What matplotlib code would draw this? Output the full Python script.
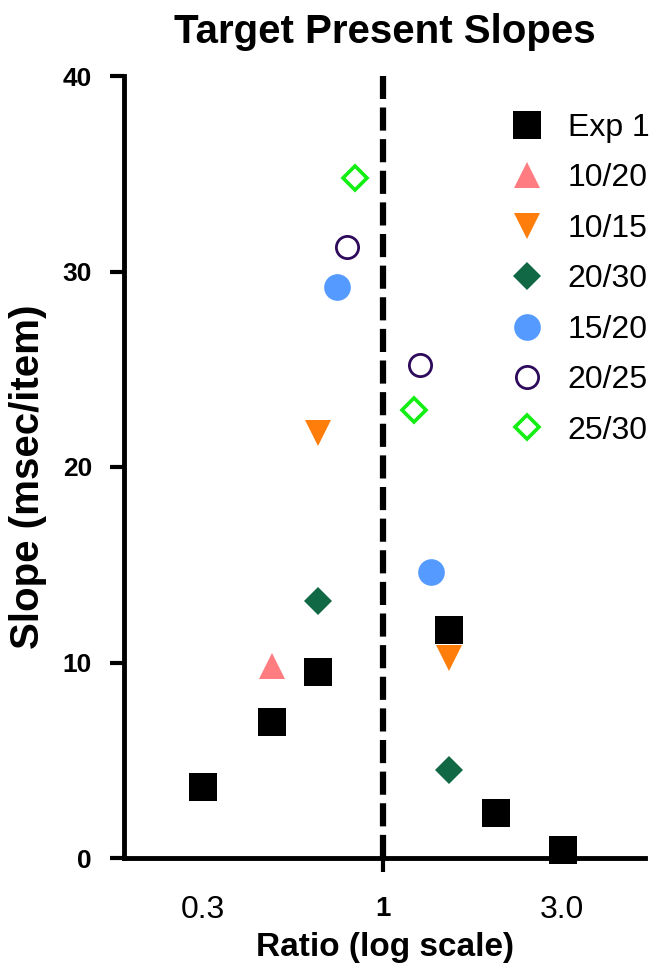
import numpy as np
import matplotlib
matplotlib.use('Agg')
import matplotlib.pyplot as plt

plt.rcParams['font.family'] = ['Liberation Sans', 'DejaVu Sans']

# ratio (x, log scale) and slope (msec/item) for each group
exp1_x = [0.30, 0.476, 0.649, 1.563, 2.13, 3.34]
exp1_y = [3.63, 6.94, 9.50, 11.66, 2.29, 0.41]
g1020_x = [0.476]
g1020_y = [9.82]
g1015_x = [0.649, 1.563]
g1015_y = [21.72, 10.21]
g2030_x = [0.649, 1.563]
g2030_y = [13.15, 4.50]
g1520_x = [0.737, 1.385]
g1520_y = [29.19, 14.65]
g2025_x = [0.788, 1.286]
g2025_y = [31.27, 25.22]
g2530_x = [0.832, 1.235]
g2530_y = [34.77, 22.92]

xtick_vals = [0.3, 1, 1 / 0.3]
xtick_labels = ['0.3', '1', '3.0']
ytick_vals = [0, 10, 20, 30, 40]

fig = plt.figure(figsize=(6.54, 9.66), dpi=100)
ax = fig.add_axes([124 / 654, 1 - 858 / 966, (645 - 124) / 654, (858 - 76) / 966])

ax.set_xscale('log')
ax.set_xlim(0.1765, 5.8)
ax.set_ylim(0, 40)

# reference line at ratio 1
ax.axvline(1, color='black', lw=4.5, ls=(0, (3.7, 1.36)), zorder=1)

kw = dict(ls='none', clip_on=False, zorder=3)
ax.plot(exp1_x, exp1_y, marker='s', ms=19.6, mfc='black', mec='black', mew=0, label='Exp 1', **kw)
ax.plot(g1020_x, g1020_y, marker='^', ms=19, mfc='#FF7C80', mec='#FF7C80', mew=0, label='10/20', **kw)
ax.plot(g1015_x, g1015_y, marker='v', ms=19, mfc='#FF7D0A', mec='#FF7D0A', mew=0, label='10/15', **kw)
ax.plot(g2030_x, g2030_y, marker='D', ms=14.3, mfc='#116844', mec='#116844', mew=0, label='20/30', **kw)
ax.plot(g1520_x, g1520_y, marker='o', ms=19.2, mfc='#559BFF', mec='#559BFF', mew=0, label='15/20', **kw)
ax.plot(g2025_x, g2025_y, marker='o', ms=16, mfc='white', mec='#2E0A5C', mew=2, label='20/25', **kw)
ax.plot(g2530_x, g2530_y, marker='D', ms=12, mfc='white', mec='#11EE11', mew=2.6, label='25/30', **kw)

for s in ['top', 'right']:
    ax.spines[s].set_visible(False)
for s in ['left', 'bottom']:
    ax.spines[s].set_linewidth(3.5)

ax.set_yticks(ytick_vals)
ax.set_yticklabels([str(v) for v in ytick_vals], fontsize=19, fontweight='bold')
ax.tick_params(axis='y', direction='out', length=10, width=3, pad=13)

ax.set_xticks(xtick_vals)
ax.set_xticklabels(xtick_labels, fontsize=23)
ax.xaxis.set_minor_locator(matplotlib.ticker.NullLocator())
ax.tick_params(axis='x', direction='out', length=10, width=3, pad=17)
for t, lab in zip(ax.xaxis.get_major_ticks(), ax.get_xticklabels()):
    if lab.get_text() != '1':
        t.tick1line.set_visible(False)
    else:
        lab.set_fontweight('bold')
        lab.set_fontsize(20)

ax.set_xlabel('Ratio (log scale)', fontsize=24, fontweight='bold', labelpad=5)
ax.set_ylabel('Slope (msec/item)', fontsize=29, fontweight='bold', labelpad=9)
ax.yaxis.set_label_coords(-0.148, 0.488)
ax.set_title('Target Present Slopes', fontsize=29, fontweight='bold', pad=24)

ax.legend(loc='upper left', bbox_to_anchor=(511 / 654, 1 - 113 / 966),
          bbox_transform=fig.transFigure, frameon=False, fontsize=23,
          handlelength=1.0, handletextpad=0.78, labelspacing=0.64,
          borderpad=0, borderaxespad=0, numpoints=1)

fig.savefig('out.png', dpi=100)
